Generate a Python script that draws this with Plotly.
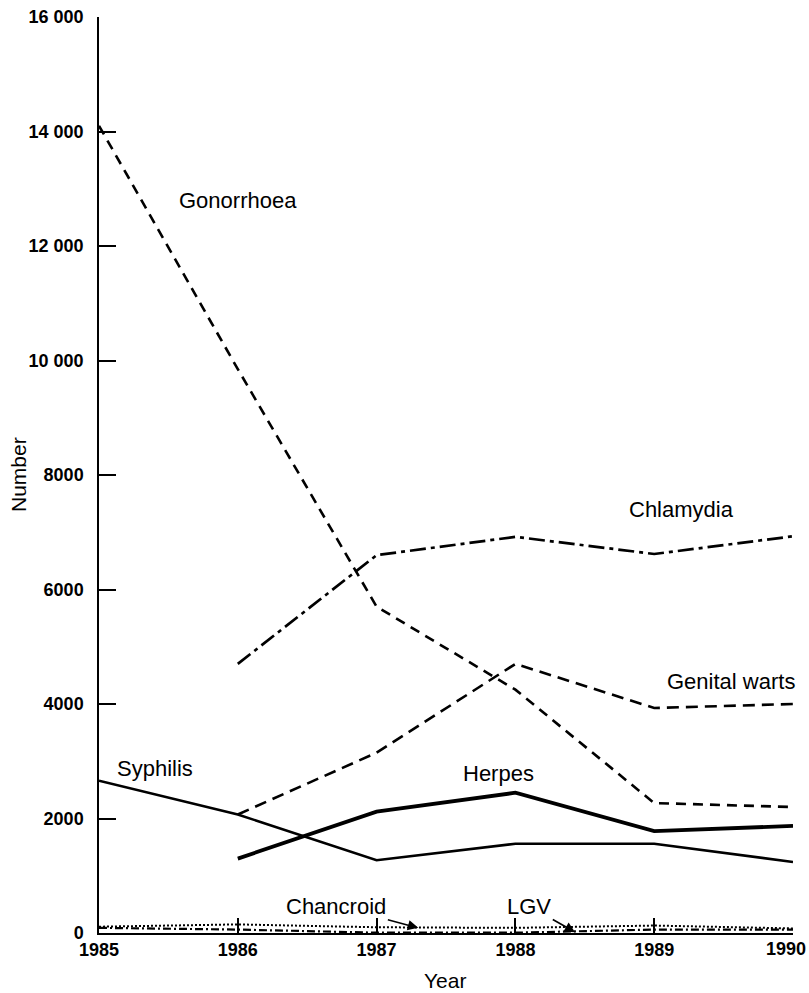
import plotly.graph_objects as go

years = [1985, 1986, 1987, 1988, 1989, 1990]
gonorrhoea = [14100, 9850, 5700, 4250, 2270, 2200]
chlamydia_years = [1986, 1987, 1988, 1989, 1990]
chlamydia = [4700, 6600, 6920, 6620, 6930]
warts_years = [1986, 1987, 1988, 1989, 1990]
genital_warts = [2070, 3150, 4700, 3930, 4000]
syphilis = [2660, 2070, 1270, 1560, 1560, 1240]
herpes_years = [1986, 1987, 1988, 1989, 1990]
herpes = [1300, 2120, 2450, 1780, 1870]
chancroid = [110, 150, 100, 90, 130, 80]
lgv = [90, 60, 5, 5, 60, 60]

y_ticks = [0, 2000, 4000, 6000, 8000, 10000, 12000, 14000, 16000]
y_tick_text = ["0", "2000", "4000", "6000", "8000", "10 000", "12 000", "14 000", "16 000"]
x_ticks = years
x_tick_text = ["1985", "1986", "1987", "1988", "1989", ""]
last_year_label = "1990"

FONT = "Liberation Sans"

fig = go.Figure()
fig.add_trace(go.Scatter(x=years, y=chancroid, mode="lines",
                         line=dict(color="black", width=2, dash="2px,2px")))
fig.add_trace(go.Scatter(x=years, y=lgv, mode="lines",
                         line=dict(color="black", width=2.2, dash="8px,3px,2px,3px")))
fig.add_trace(go.Scatter(x=years, y=gonorrhoea, mode="lines",
                         line=dict(color="black", width=2.6, dash="10px,7px")))
fig.add_trace(go.Scatter(x=chlamydia_years, y=chlamydia, mode="lines",
                         line=dict(color="black", width=2.7, dash="16px,5px,4px,5px")))
fig.add_trace(go.Scatter(x=warts_years, y=genital_warts, mode="lines",
                         line=dict(color="black", width=2.6, dash="12px,7px")))
fig.add_trace(go.Scatter(x=years, y=syphilis, mode="lines",
                         line=dict(color="black", width=2.6)))
fig.add_trace(go.Scatter(x=herpes_years, y=herpes, mode="lines",
                         line=dict(color="black", width=3.8)))

labels = [
    ("Gonorrhoea", 1986.0, 12800),
    ("Chlamydia", 1989.2, 7400),
    ("Genital warts", 1989.55, 4400),
    ("Syphilis", 1985.4, 2880),
    ("Herpes", 1987.88, 2790),
]
for text, x, y in labels:
    fig.add_annotation(x=x, y=y, text=text, showarrow=False,
                       font=dict(family=FONT, size=22, color="black"))

fig.add_annotation(x=1987.30, y=90, ax=1986.71, ay=470, axref="x", ayref="y",
                   text="Chancroid", showarrow=True, arrowhead=2, arrowsize=1.3,
                   arrowwidth=1.6, arrowcolor="black",
                   font=dict(family=FONT, size=22, color="black"))
fig.add_annotation(x=1988.43, y=15, ax=1988.10, ay=470, axref="x", ayref="y",
                   text="LGV", showarrow=True, arrowhead=2, arrowsize=1.3,
                   arrowwidth=1.6, arrowcolor="black",
                   font=dict(family=FONT, size=22, color="black"))

# last x tick label, kept inside the page like in the reference
fig.add_annotation(x=years[-1], y=0, yref="y", xref="x", text=last_year_label,
                   showarrow=False, xanchor="right", yanchor="top",
                   xshift=15, yshift=-4,
                   font=dict(family=FONT, size=18, color="black", weight="bold"))

# axis titles
fig.add_annotation(xref="paper", yref="paper", x=0, y=0.5, xshift=-81, text="Number",
                   textangle=-90, showarrow=False, xanchor="center", yanchor="middle",
                   font=dict(family=FONT, size=21, color="black"))
fig.add_annotation(xref="paper", yref="paper", x=0.4986, y=0, yshift=-47, text="Year",
                   showarrow=False, xanchor="center", yanchor="middle",
                   font=dict(family=FONT, size=21, color="black"))

fig.update_layout(
    width=809, height=993,
    margin=dict(l=99, r=16, t=17, b=60),
    paper_bgcolor="white", plot_bgcolor="white",
    showlegend=False,
    font=dict(family=FONT, color="black"),
)
fig.update_xaxes(
    range=[1985, 1990], tickvals=x_ticks, ticktext=x_tick_text,
    showline=True, linecolor="black", linewidth=1.5, mirror=False,
    ticks="inside", ticklen=15, tickwidth=1.5, tickcolor="black",
    showgrid=False, zeroline=False, automargin=False,
    ticklabeloverflow="allow", ticklabelstandoff=0,
    tickfont=dict(family=FONT, size=18, color="black", weight="bold"),
)
fig.update_yaxes(
    range=[0, 16000], tickvals=y_ticks, ticktext=y_tick_text,
    showline=True, linecolor="black", linewidth=1.5,
    ticks="inside", ticklen=17, tickwidth=1.5, tickcolor="black",
    showgrid=False, zeroline=False, automargin=False,
    ticklabeloverflow="allow", ticklabelstandoff=10,
    tickfont=dict(family=FONT, size=18, color="black", weight="bold"),
)

fig.write_html(
    "out.html",
    config={"displayModeBar": False},
    post_script="document.body.style.margin='0';document.body.style.overflow='hidden';",
)
